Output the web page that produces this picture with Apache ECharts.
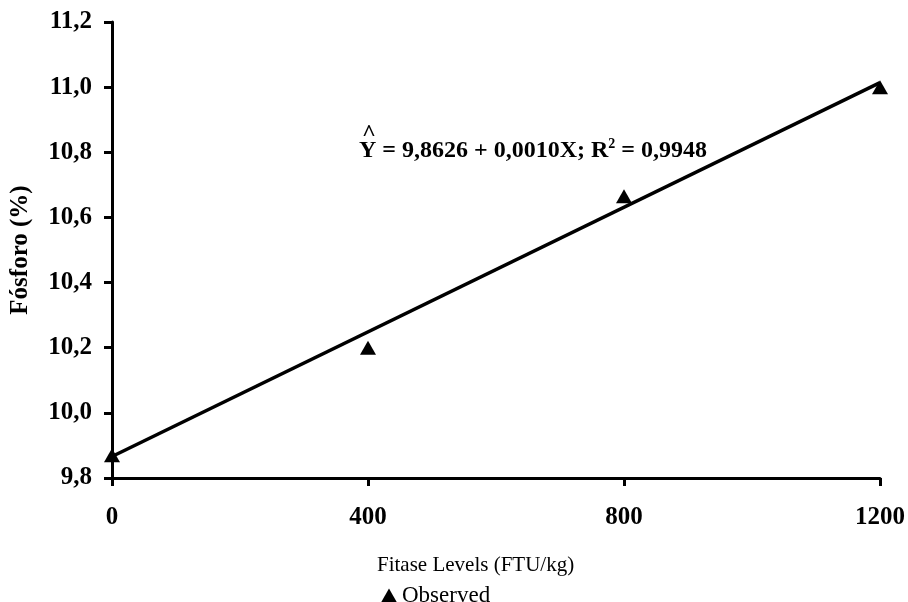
<!DOCTYPE html>
<html>
<head>
<meta charset="utf-8">
<script src="https://cdn.jsdelivr.net/npm/echarts@6/dist/echarts.min.js"></script>
<style>
  body { margin: 0; background: #fff; }
  #chart { width: 908px; height: 602px; }
</style>
</head>
<body>
<div id="chart"></div>
<script>
var levels = [0, 400, 800, 1200];
var observed = [9.87, 10.20, 10.665, 11.00];
// fitted line as drawn (ends)
var fitX = [0, 1200];
var fitY = [9.866, 11.014];

var serif = '"Liberation Serif", "Times New Roman", serif';

function pairs(xs, ys) {
    return xs.map(function (x, i) { return [x, ys[i]]; });
}

var chart = echarts.init(document.getElementById('chart'));
var option = {
    animation: false,
    grid: { left: 111, right: 27, top: 22, bottom: 124 },
    legend: {
        data: [{ name: 'Observed', icon: 'triangle' }],
        left: 376,
        top: 579,
        itemWidth: 16,
        itemHeight: 14,
        itemGap: 5,
        textStyle: { fontFamily: serif, fontSize: 23, color: '#000' }
    },
    xAxis: {
        type: 'value',
        min: 0,
        max: 1200,
        interval: 400,
        axisLine: { lineStyle: { color: '#000', width: 3 } },
        axisTick: { show: true, length: 8, lineStyle: { color: '#000', width: 3 } },
        axisLabel: {
            color: '#000', fontFamily: serif, fontWeight: 'bold', fontSize: 25, margin: 27,
            formatter: function (v) { return String(v); }
        },
        splitLine: { show: false }
    },
    yAxis: {
        type: 'value',
        min: 9.8,
        max: 11.2,
        interval: 0.2,
        name: 'Fósforo (%)',
        nameLocation: 'middle',
        nameGap: 79,
        nameTextStyle: { color: '#000', fontFamily: serif, fontWeight: 'bold', fontSize: 25 },
        axisLine: { lineStyle: { color: '#000', width: 3 } },
        axisTick: { show: true, length: 8, lineStyle: { color: '#000', width: 3 } },
        axisLabel: {
            color: '#000', fontFamily: serif, fontWeight: 'bold', fontSize: 25, margin: 20,
            formatter: function (v) { return v.toFixed(1).replace('.', ','); }
        },
        splitLine: { show: false }
    },
    graphic: [
        {
            type: 'text', left: 377, top: 555,
            style: { text: 'Fitase Levels (FTU/kg)', font: '21px ' + serif, fill: '#000' }
        },
        {
            type: 'text', left: 359, top: 137,
            style: {
                text: '{b|Y = 9,8626 + 0,0010X; R}{s|2}{b| = 0,9948}',
                rich: {
                    b: { font: 'bold 24px ' + serif, fill: '#000', verticalAlign: 'bottom' },
                    s: { font: 'bold 14px ' + serif, fill: '#000', verticalAlign: 'top', padding: [0, 0, 12, 0] }
                }
            }
        },
        {
            type: 'text', left: 362, top: 122,
            style: { text: '^', font: 'bold 24px ' + serif, fill: '#000' }
        }
    ],
    series: [
        {
            name: 'Fit',
            type: 'line',
            data: pairs(fitX, fitY),
            symbol: 'none',
            lineStyle: { color: '#000', width: 3.5 },
            z: 3
        },
        {
            name: 'Observed',
            type: 'scatter',
            data: pairs(levels, observed),
            symbol: 'triangle',
            symbolSize: [16, 14],
            itemStyle: { color: '#000', opacity: 1 },
            z: 4
        }
    ]
};
chart.setOption(option);
</script>
</body>
</html>
